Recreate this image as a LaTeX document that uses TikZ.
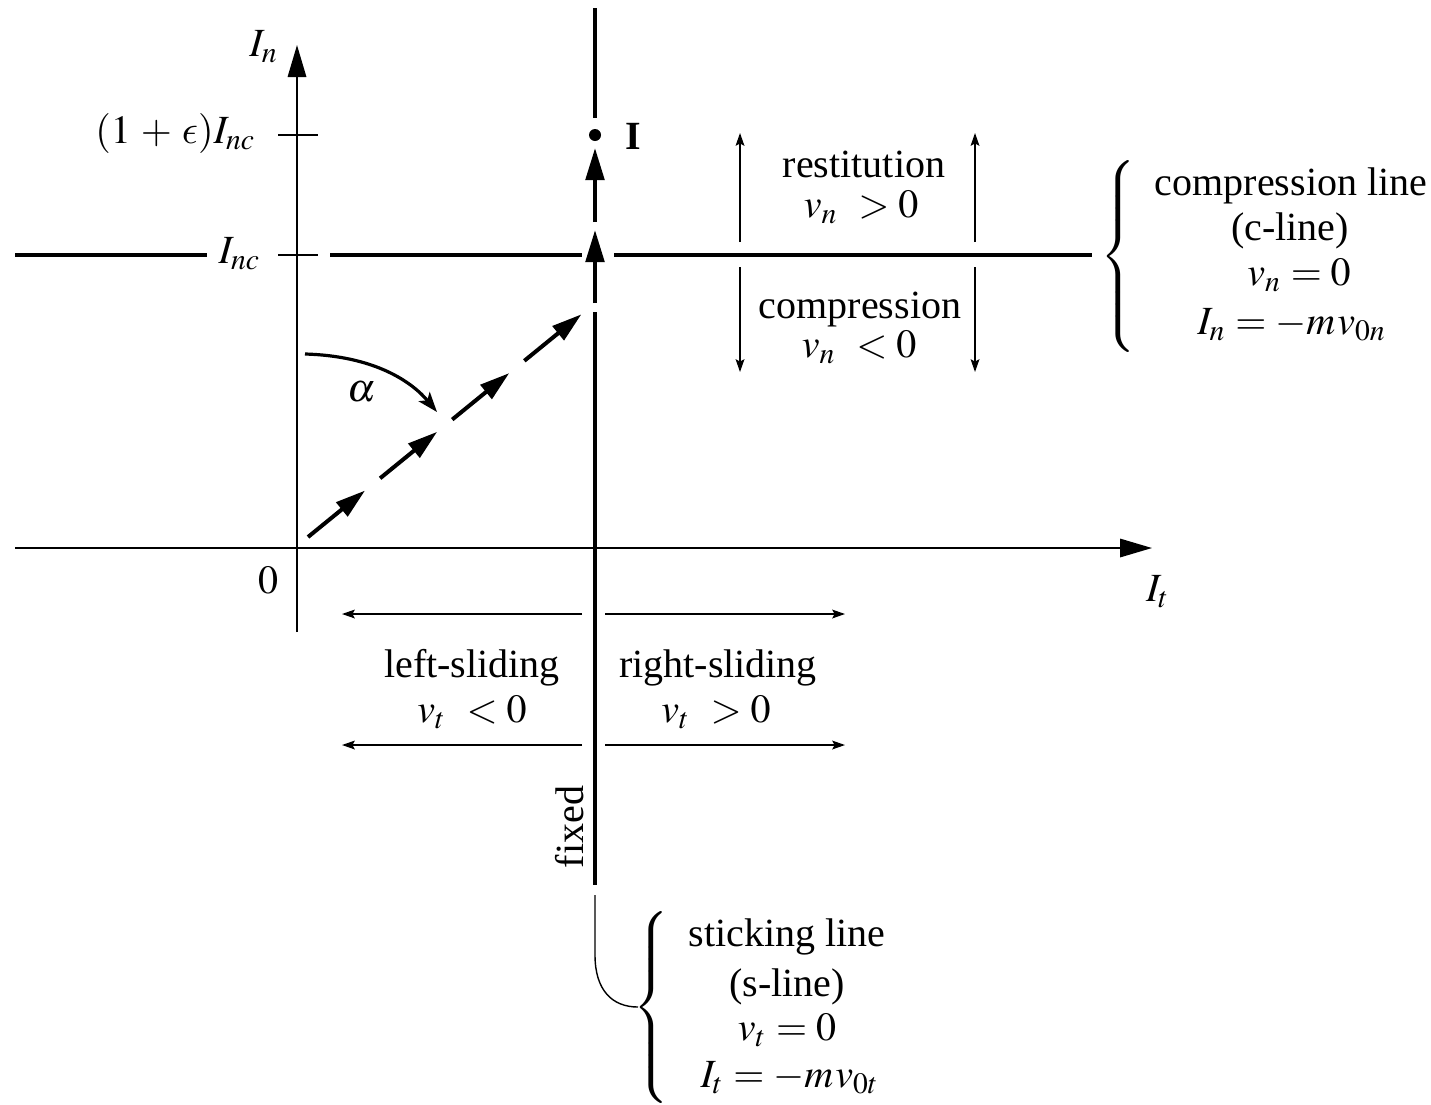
\documentclass[tikz,border=0pt]{standalone}
\usepackage{mathptmx}
\usepackage[no-math]{fontspec}
\setmainfont{Liberation Serif}
\DeclareSymbolFont{cmlettersx}{OML}{cmm}{m}{it}
\DeclareMathSymbol{\lunateeps}{\mathord}{cmlettersx}{"0F}
\usetikzlibrary{arrows.meta,calc}
\tikzset{
  axisline/.style={line width=0.5pt},
  thickline/.style={line width=1pt},
  thinline/.style={line width=0.35pt},
  bigtip/.style={-{Triangle[length=8pt,width=4.6pt]}},
  smalltip/.style={-{Stealth[length=3.2pt,width=2.2pt,inset=0.6pt]}},
  lbl/.style={inner sep=0pt,outer sep=0pt},
}
\newcommand{\bracebox}{$\nulldelimiterspace=0pt\left\{\vrule height 22pt depth 22pt width 0pt\right.$}
\begin{document}
\begin{tikzpicture}[x=0.25pt,y=-0.25pt]
\useasboundingbox (0,0) rectangle (1431,1104);
% axes
\coordinate (xl) at (15,548);
\coordinate (xr) at (1152,548);
\coordinate (yb) at (297,632);
\coordinate (yt) at (297,45);
\draw[axisline,bigtip] (xl) -- (xr);
\draw[axisline,bigtip] (yb) -- (yt);
\node[lbl] (In) at (264,47) {$I_n$};
\node[lbl] (It) at (1158,592) {$I_t$};
\node[lbl] (zero) at (268,580) {$0$};
% ticks
\coordinate (t1a) at (278,135); \coordinate (t1b) at (318,135);
\coordinate (t2a) at (278,255); \coordinate (t2b) at (318,255);
\draw[thinline] (t1a) -- (t1b);
\draw[thinline] (t2a) -- (t2b);
\node[lbl,anchor=base east] (Ie) at (256,143) {$(1\mkern2mu+\mkern2mu\lunateeps)I_{nc}$};
\node[lbl,anchor=base east] (Inc) at (261,263) {$I_{nc}$};
% c-line
\coordinate (c1a) at (15,255); \coordinate (c1b) at (207,255);
\coordinate (c2a) at (330,255); \coordinate (c2b) at (582,255);
\coordinate (c3a) at (614,255); \coordinate (c3b) at (1092,255);
\draw[thickline] (c1a) -- (c1b);
\draw[thickline] (c2a) -- (c2b);
\draw[thickline] (c3a) -- (c3b);
% s-line
\coordinate (s0a) at (595,8); \coordinate (s0b) at (595,118);
\coordinate (s1a) at (595,222); \coordinate (s1b) at (595,148);
\coordinate (s2a) at (595,303); \coordinate (s2b) at (595,230);
\coordinate (s3a) at (595,312); \coordinate (s3b) at (595,885);
\draw[thickline] (s0a) -- (s0b);
\draw[thickline,bigtip] (s1a) -- (s1b);
\draw[thickline,bigtip] (s2a) -- (s2b);
\draw[thickline] (s3a) -- (s3b);
\node[circle,fill,inner sep=0pt,minimum size=3pt] (dot) at (595,135) {};
\node[lbl] (I) at (633,136) {\textbf{I}};
% diagonal path
\coordinate (A) at (308,537);
\coordinate (B) at (583,313);
\foreach \s in {0,0.2622,0.5244,0.7866}{
  \draw[thickline,-{Triangle[length=7.5pt,width=4.4pt]}] ($(A)!\s!(B)$) -- ($(A)!{\s+0.2074}!(B)$);
}
% alpha
\coordinate (al0) at (305,354);
\coordinate (al1) at (437,412);
\draw[line width=0.8pt,-{Stealth[length=5pt,width=3.6pt,inset=1.2pt]}] (al0) .. controls (375,356) and (412,382) .. (al1);
\node[lbl] (alpha) at (362,392) {$\alpha$};
% restitution / compression arrows
\coordinate (r1a) at (740,242); \coordinate (r1b) at (740,133);
\coordinate (r2a) at (975,242); \coordinate (r2b) at (975,133);
\coordinate (d1a) at (740,267); \coordinate (d1b) at (740,372);
\coordinate (d2a) at (975,267); \coordinate (d2b) at (975,372);
\draw[thinline,smalltip] (r1a) -- (r1b);
\draw[thinline,smalltip] (r2a) -- (r2b);
\draw[thinline,smalltip] (d1a) -- (d1b);
\draw[thinline,smalltip] (d2a) -- (d2b);
\node[lbl,anchor=base] (rest) at (864,177) {restitution};
\node[lbl,anchor=base] (restv) at (861,217) {$v_n\mkern5mu > 0$};
\node[lbl,anchor=base] (comp) at (860,318) {compression};
\node[lbl,anchor=base] (compv) at (859,357) {$v_n\mkern5mu < 0$};
% sliding arrows
\coordinate (l1a) at (582,614); \coordinate (l1b) at (342,614);
\coordinate (rr1a) at (605,614); \coordinate (rr1b) at (845,614);
\coordinate (l2a) at (582,745); \coordinate (l2b) at (342,745);
\coordinate (rr2a) at (605,745); \coordinate (rr2b) at (845,745);
\draw[thinline,smalltip] (l1a) -- (l1b);
\draw[thinline,smalltip] (rr1a) -- (rr1b);
\draw[thinline,smalltip] (l2a) -- (l2b);
\draw[thinline,smalltip] (rr2a) -- (rr2b);
\node[lbl,anchor=base] (ls) at (472,677) {left-sliding};
\node[lbl,anchor=base] (lsv) at (472,722) {$v_t\mkern5mu < 0$};
\node[lbl,anchor=base] (rs) at (718,677) {right-sliding};
\node[lbl,anchor=base] (rsv) at (716,722) {$v_t\mkern5mu > 0$};
\node[lbl,rotate=90] (fixed) at (570,827) {fixed};
% compression line brace
\node[lbl] (cbrace) at (1118,257) {\bracebox};
\node[lbl,anchor=base] (cl1) at (1291,195) {compression line};
\node[lbl,anchor=base] (cl2) at (1290,240) {(c-line)};
\node[lbl,anchor=base] (cl3) at (1299,285) {$v_n = 0$};
\node[lbl,anchor=base] (cl4) at (1292,334) {$I_n = -m\mkern1mu v_{0n}$};
% sticking line brace
\node[lbl] (sbrace) at (651,1008) {\bracebox};
\coordinate (sc0) at (595,895);
\coordinate (sc1) at (595,955);
\coordinate (sc2) at (638,1007);
\draw[thinline] (sc0) -- (sc1) .. controls (595,990) and (612,1007) .. (sc2);
\node[lbl,anchor=base] (sl1) at (787,946) {sticking line};
\node[lbl,anchor=base] (sl2) at (787,996) {(s-line)};
\node[lbl,anchor=base] (sl3) at (787,1040) {$v_t = 0$};
\node[lbl,anchor=base] (sl4) at (790,1087) {$I_t = -m\mkern1mu v_{0t}$};
\end{tikzpicture}
\end{document}
